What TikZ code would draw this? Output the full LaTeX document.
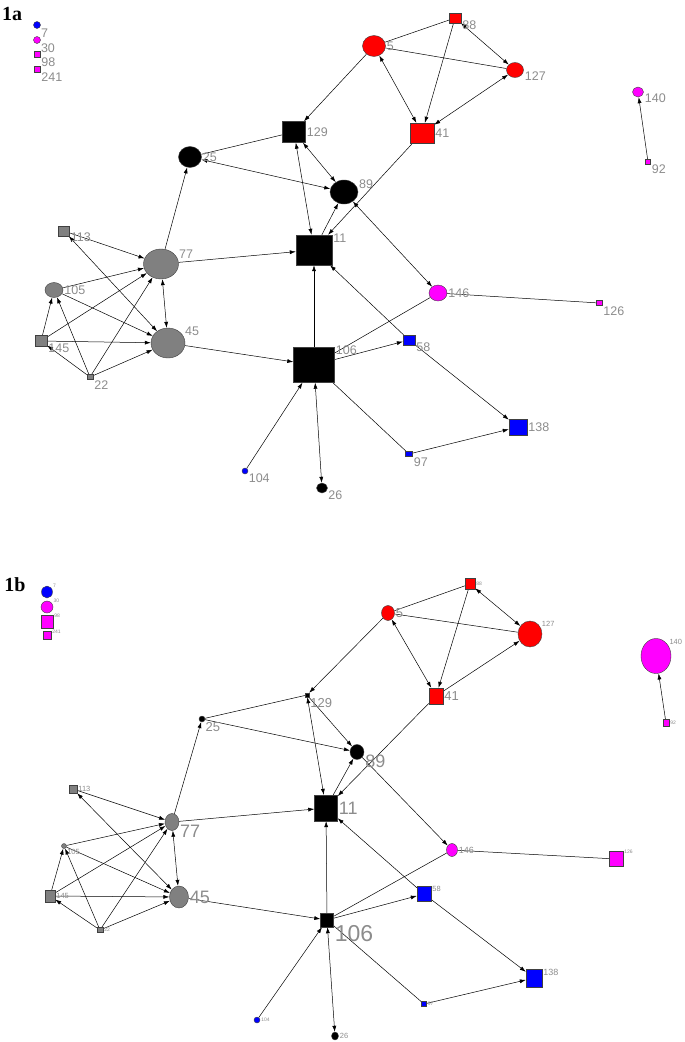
\documentclass[tikz,border=0pt]{standalone}
\usepackage{fontspec}
\setmainfont{Liberation Serif}
\setsansfont{Liberation Sans}
\usetikzlibrary{shapes.geometric, arrows.meta, backgrounds}
\definecolor{nred}{HTML}{FF0000}
\definecolor{nblue}{HTML}{0000FF}
\definecolor{nmag}{HTML}{FF00FF}
\definecolor{ngray}{HTML}{808080}
\definecolor{labgray}{HTML}{8C8C8C}

\begin{document}
\begin{tikzpicture}[
    x=1pt, y=-1pt,
    sq/.style={rectangle, draw=black!75, line width=0.4pt, inner sep=0pt},
    rnd/.style={ellipse, draw=black!75, line width=0.4pt, inner sep=0pt},
    sz/.style 2 args={minimum width=#1pt, minimum height=#2pt},
    lab/.style={text=labgray, font=\sffamily\fontsize{12.5}{12.5}\selectfont, inner sep=1pt},
    labT/.style={lab, font=\sffamily\fontsize{5}{5}\selectfont},
    labS/.style={lab, font=\sffamily\fontsize{7.5}{7.5}\selectfont},
    labM/.style={lab, font=\sffamily\fontsize{9}{9}\selectfont},
    labL/.style={lab, font=\sffamily\fontsize{13}{13}\selectfont},
    labXL/.style={lab, font=\sffamily\fontsize{18}{18}\selectfont},
    labXXL/.style={lab, font=\sffamily\fontsize{23}{23}\selectfont},
    paneltag/.style={font=\bfseries\fontsize{20}{20}\selectfont, inner sep=0pt},
    ln/.style={draw=black, line width=0.5pt},
    arr/.style={ln, -{Latex[length=6pt, width=4pt]}},
    both/.style={ln, {Latex[length=6pt, width=4pt]}-{Latex[length=6pt, width=4pt]}}
]
\useasboundingbox (0,0) rectangle (685,1042);

% ---------------- Panel 1a ----------------
\node[paneltag] (tagA) at (12,14) {1a};

% isolated nodes
\node[rnd, fill=nblue, sz={7}{7}, label={[lab]-40:7}] (a7) at (37,25) {};
\node[rnd, fill=nmag, sz={7}{7}, label={[lab]-40:30}] (a30) at (37,40) {};
\node[sq, fill=nmag, sz={6}{6}, label={[lab]-40:98}] (a98) at (37,54) {};
\node[sq, fill=nmag, sz={6}{6}, label={[lab]-40:241}] (a241) at (37,69) {};

% red group
\node[rnd, fill=nred, sz={23}{21}, label={[lab]0:5}] (a5) at (374,46) {};
\node[sq, fill=nred, sz={12}{10}, label={[lab]-15:88}] (a88) at (455,18) {};
\node[rnd, fill=nred, sz={17}{15}, label={[lab]-5:127}] (a127) at (515,70) {};
\node[sq, fill=nred, sz={24}{20}, label={[lab]0:41}] (a41) at (422,133) {};

% black group
\node[sq, fill=black, sz={23}{21}, label={[lab]0:129}] (a129) at (294,132) {};
\node[rnd, fill=black, sz={23}{21}, label={[lab]0:25}] (a25) at (190,157) {};
\node[rnd, fill=black, sz={28}{24}, label={[lab]10:89}] (a89) at (344,192) {};
\node[sq, fill=black, sz={36}{30}, label={[lab]20:11}] (a11) at (314,250) {};
\node[sq, fill=black, sz={41}{35}, label={[lab]25:106}] (a106) at (314,365) {};
\node[rnd, fill=black, sz={11}{10}, label={[lab]-20:26}] (a26) at (322,488) {};

% gray group
\node[rnd, fill=ngray, sz={35}{30}, label={[lab]15:77}] (a77) at (161,264) {};
\node[rnd, fill=ngray, sz={34}{30}, label={[lab]20:45}] (a45) at (168,343) {};
\node[sq, fill=ngray, sz={11}{10}, label={[lab]-10:113}] (a113) at (64,231) {};
\node[rnd, fill=ngray, sz={18}{15}, label={[lab]0:105}] (a105) at (54,290) {};
\node[sq, fill=ngray, sz={12}{11}, label={[lab]-15:145}] (a145) at (41,341) {};
\node[sq, fill=ngray, sz={6}{5}, label={[lab]-35:22}] (a22) at (90,377) {};

% blue and magenta
\node[sq, fill=nblue, sz={12}{10}, label={[lab]-15:58}] (a58) at (409,340) {};
\node[sq, fill=nblue, sz={18}{16}, label={[lab]0:138}] (a138) at (518,427) {};
\node[sq, fill=nblue, sz={7}{5}, label={[lab]-35:97}] (a97) at (409,454) {};
\node[rnd, fill=nblue, sz={6}{6}, label={[lab]-35:104}] (a104) at (245,471) {};
\node[rnd, fill=nmag, sz={18}{16}, label={[lab]0:146}] (a146) at (438,293) {};
\node[sq, fill=nmag, sz={6}{5}, label={[lab]-35:126}] (a126) at (599,303) {};
\node[rnd, fill=nmag, sz={11}{10}, label={[lab]-5:140}] (a140) at (638,92) {};
\node[sq, fill=nmag, sz={5}{5}, label={[lab]-35:92}] (a92) at (648,162) {};

% Connections 1a
\begin{pgfonlayer}{background}
\draw[both] (a88) -- (a127);
\draw[arr] (a88) -- (a41);
\draw[ln] (a5) -- (a88);
\draw[ln] (a5) -- (a127);
\draw[both] (a5) -- (a41);
\draw[both] (a41) -- (a127);
\draw[arr] (a5) -- (a129);
\draw[arr] (a41) -- (a11);
\draw[both] (a129) -- (a11);
\draw[both] (a129) -- (a89);
\draw[ln] (a25) -- (a129);
\draw[both] (a25) -- (a89);
\draw[arr] (a77) -- (a25);
\draw[arr] (a11) -- (a89);
\draw[both] (a89) -- (a146);
\draw[arr] (a77) -- (a11);
\draw[arr] (a106) -- (a11);
\draw[arr] (a58) -- (a11);
\draw[ln] (a106) -- (a146);
\draw[arr] (a106) -- (a58);
\draw[arr] (a58) -- (a138);
\draw[arr] (a97) -- (a138);
\draw[ln] (a97) -- (a106);
\draw[arr] (a104) -- (a106);
\draw[both] (a26) -- (a106);
\draw[ln] (a146) -- (a126);
\draw[arr] (a92) -- (a140);
\draw[arr] (a45) -- (a106);
\draw[both] (a77) -- (a45);
\draw[arr] (a113) -- (a77);
\draw[both] (a113) -- (a45);
\draw[arr] (a105) -- (a77);
\draw[arr] (a105) -- (a45);
\draw[arr] (a145) -- (a105);
\draw[arr] (a145) -- (a77);
\draw[arr] (a145) -- (a45);
\draw[arr] (a22) -- (a105);
\draw[arr] (a22) -- (a77);
\draw[arr] (a22) -- (a45);
\draw[arr] (a22) -- (a145);
\end{pgfonlayer}

% ---------------- Panel 1b ----------------
\node[paneltag] (tagB) at (15,585) {1b};

% isolated nodes
\node[rnd, fill=nblue, sz={11}{12}, label={[labT]30:7}] (b7) at (47,592) {};
\node[rnd, fill=nmag, sz={12}{12}, label={[labT]30:30}] (b30) at (47,607) {};
\node[sq, fill=nmag, sz={12}{13}, label={[labT]30:98}] (b98) at (47,622) {};
\node[sq, fill=nmag, sz={8}{8}, label={[labT]10:241}] (b241) at (47,635) {};

% red group
\node[rnd, fill=nred, sz={13}{15}, label={[labL]0:5}] (b5) at (388,613) {};
\node[sq, fill=nred, sz={10}{11}, label={[labT]0:88}] (b88) at (470,584) {};
\node[rnd, fill=nred, sz={24}{26}, label={[labS]30:127}] (b127) at (530,634) {};
\node[sq, fill=nred, sz={14}{16}, label={[labL]0:41}] (b41) at (436,696) {};

% black group
\node[sq, fill=black, sz={4}{4}, label={[labL]-40:129}] (b129) at (307,695) {};
\node[rnd, fill=black, sz={6}{6}, label={[labL]-40:25}] (b25) at (202,719) {};
\node[rnd, fill=black, sz={14}{15}, label={[labXL]-10:89}] (b89) at (357,752) {};
\node[sq, fill=black, sz={23}{26}, label={[labXL]0:11}] (b11) at (326,808) {};
\node[sq, fill=black, sz={13}{14}, label={[labXXL]-30:106}] (b106) at (327,920) {};
\node[rnd, fill=black, sz={7}{8}, label={[labS]0:26}] (b26) at (335,1036) {};

% gray group
\node[rnd, fill=ngray, sz={14}{17}, label={[labXL]-15:77}] (b77) at (172,822) {};
\node[rnd, fill=ngray, sz={19}{22}, label={[labXL]0:45}] (b45) at (179,897) {};
\node[sq, fill=ngray, sz={8}{8}, label={[labS]0:113}] (b113) at (73,789) {};
\node[rnd, fill=ngray, sz={5}{5}, label={[labS]-40:105}] (b105) at (64,846) {};
\node[sq, fill=ngray, sz={10}{12}, label={[labS]0:145}] (b145) at (50,896) {};
\node[sq, fill=ngray, sz={6}{5}, label={[labT]0:22}] (b22) at (100,930) {};

% blue and magenta
\node[sq, fill=nblue, sz={14}{15}, label={[labS]10:58}] (b58) at (424,894) {};
\node[sq, fill=nblue, sz={16}{18}, label={[labM]10:138}] (b138) at (534,978) {};
\node[sq, fill=nblue, sz={5}{5}, label={[labT]0:97}] (b97) at (424,1004) {};
\node[rnd, fill=nblue, sz={6}{6}, label={[labT]0:104}] (b104) at (257,1020) {};
\node[rnd, fill=nmag, sz={11}{13}, label={[labM]0:146}] (b146) at (452,850) {};
\node[sq, fill=nmag, sz={14}{15}, label={[labT]30:126}] (b126) at (616,859) {};
\node[rnd, fill=nmag, sz={30}{35}, label={[labS]40:140}] (b140) at (656,656) {};
\node[sq, fill=nmag, sz={6}{7}, label={[labT]0:92}] (b92) at (666,723) {};

% Connections 1b
\begin{pgfonlayer}{background}
\draw[both] (b88) -- (b127);
\draw[arr] (b88) -- (b41);
\draw[ln] (b5) -- (b88);
\draw[ln] (b5) -- (b127);
\draw[both] (b5) -- (b41);
\draw[arr] (b41) -- (b127);
\draw[arr] (b5) -- (b129);
\draw[arr] (b41) -- (b11);
\draw[both] (b129) -- (b11);
\draw[arr] (b129) -- (b89);
\draw[ln] (b25) -- (b129);
\draw[arr] (b25) -- (b89);
\draw[arr] (b77) -- (b25);
\draw[arr] (b11) -- (b89);
\draw[arr] (b89) -- (b146);
\draw[arr] (b77) -- (b11);
\draw[arr] (b106) -- (b11);
\draw[arr] (b58) -- (b11);
\draw[ln] (b106) -- (b146);
\draw[arr] (b106) -- (b58);
\draw[arr] (b58) -- (b138);
\draw[arr] (b97) -- (b138);
\draw[ln] (b97) -- (b106);
\draw[arr] (b104) -- (b106);
\draw[both] (b26) -- (b106);
\draw[ln] (b146) -- (b126);
\draw[arr] (b92) -- (b140);
\draw[arr] (b45) -- (b106);
\draw[both] (b77) -- (b45);
\draw[arr] (b113) -- (b77);
\draw[both] (b113) -- (b45);
\draw[arr] (b105) -- (b77);
\draw[arr] (b105) -- (b45);
\draw[arr] (b145) -- (b105);
\draw[arr] (b145) -- (b77);
\draw[arr] (b145) -- (b45);
\draw[arr] (b22) -- (b105);
\draw[arr] (b22) -- (b77);
\draw[arr] (b22) -- (b45);
\draw[arr] (b22) -- (b145);
\end{pgfonlayer}

\end{tikzpicture}
\end{document}
